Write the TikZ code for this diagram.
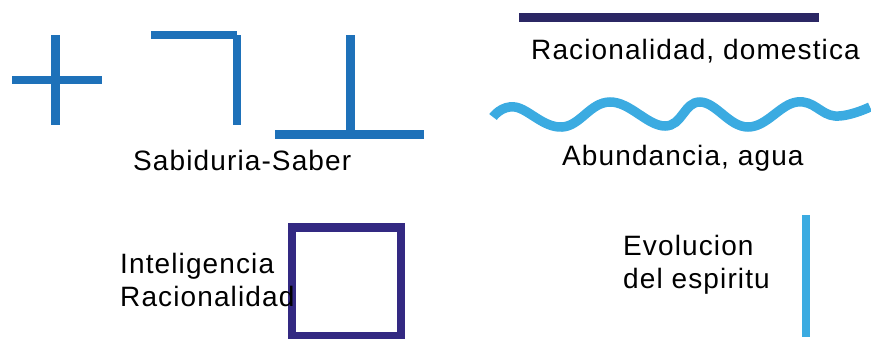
\documentclass[tikz,border=0pt]{standalone}
\usepackage{fontspec}
\setmainfont{Liberation Sans}[LetterSpace=4]
\usetikzlibrary{positioning}
\definecolor{symblue}{RGB}{30,113,185}
\definecolor{waterblue}{RGB}{59,171,225}
\definecolor{nightblue}{RGB}{43,39,100}
\definecolor{boxblue}{RGB}{51,41,130}

\begin{document}
\begin{tikzpicture}[x=1pt,y=-1pt,
symbol/.style={draw=symblue,line width=8.7pt},
label/.style={anchor=base west,inner sep=0pt,font=\fontsize{28}{33}\selectfont},
twoline/.style={label,align=left}
]
\useasboundingbox (0,0) rectangle (871,338);
% cross, corner and inverted T
\draw[symbol] (55.5,35) -- (55.5,125);
\draw[symbol] (12,80) -- (101.5,80);
\draw[symbol] (151,35) -- (237,35);
\draw[symbol] (237,35) -- (237,125);
\draw[symbol] (350.5,35) -- (350.5,134);
\draw[symbol] (275,134.5) -- (424,134.5);
\node[label] (saber) at (133,170) {Sabiduria-Saber};

% bar and wave
\draw[nightblue,line width=8.4pt] (519,17.5) -- (819,17.5);
\node[label] (domestica) at (531,59.3) {Racionalidad, domestica};
\draw[waterblue,line width=9.5pt] plot[smooth,tension=0.7] coordinates {
(493,117) (515,107) (562,127) (610,102) (665,126) (700,102)
(748,127) (797,102) (835,116) (870,107)};
\node[label] (agua) at (562,165) {Abundancia, agua};

% square
\draw[boxblue,line width=8.4pt] (292,227.5) rectangle (400.8,336);
\node[twoline] (razon) at (120,306.7) {Inteligencia\\Racionalidad};

% vertical bar
\draw[waterblue,line width=8.4pt] (806,215) -- (806,337);
\node[twoline] (espiritu) at (623,288) {Evolucion\\del espiritu};
\end{tikzpicture}
\end{document}
